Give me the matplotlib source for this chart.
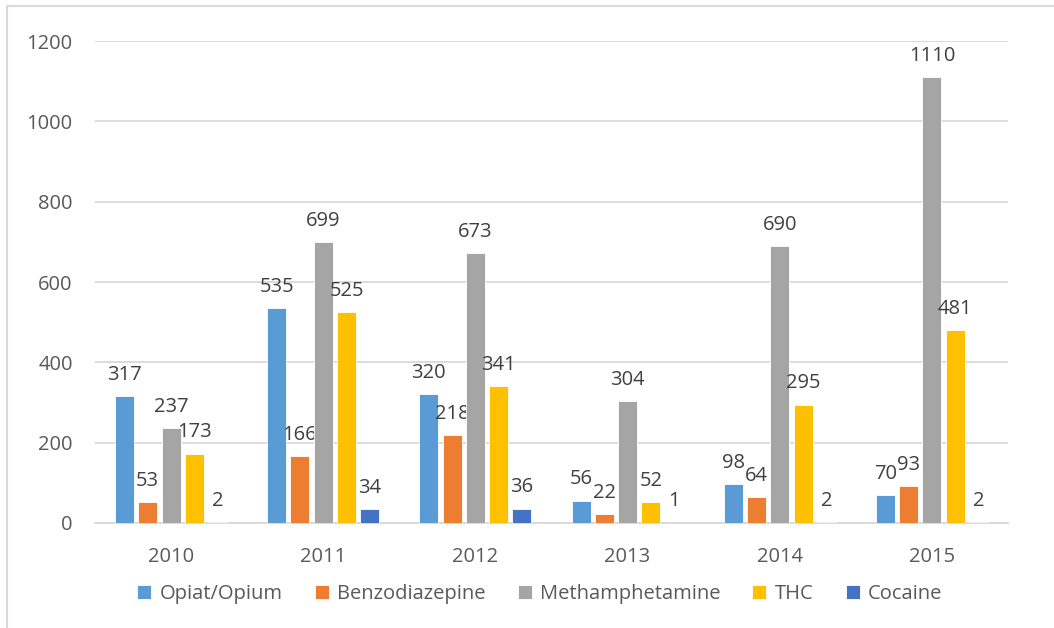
import numpy as np
import matplotlib.pyplot as plt
from matplotlib.lines import Line2D

years = ['2010', '2011', '2012', '2013', '2014', '2015']
series = ['Opiat/Opium', 'Benzodiazepine', 'Methamphetamine', 'THC', 'Cocaine']
opium = [317, 535, 320, 56, 98, 70]
benzo = [53, 166, 218, 22, 64, 93]
meth = [237, 699, 673, 304, 690, 1110]
thc = [173, 525, 341, 52, 295, 481]
cocaine = [2, 34, 36, 1, 2, 2]

colors = ['#5B9BD5', '#ED7D31', '#A5A5A5', '#FFC000', '#4472C4']

plt.rcParams['font.family'] = ['Open Sans', 'DejaVu Sans']

fig = plt.figure(figsize=(10.54, 6.28), dpi=100)
ax = fig.add_axes([0.0901, 0.1672, 0.8663, 0.7675])

x = np.arange(len(years))
step = 0.153
width = 0.125
for k, (name, vals) in enumerate(zip(series, [opium, benzo, meth, thc, cocaine])):
    pos = x + (k - 2) * step
    bars = ax.bar(pos, vals, width, color=colors[k], edgecolor='white',
                  linewidth=0.6, label=name, zorder=3)
    for b, v in zip(bars, vals):
        ax.annotate(str(v), (b.get_x() + b.get_width() / 2, v),
                    xytext=(0, 8), textcoords='offset points',
                    ha='center', va='bottom', fontsize=14.5, color='#404040')

ax.set_ylim(0, 1200)
ax.set_xlim(-0.5, len(years) - 0.5)
ax.set_yticks(range(0, 1201, 200))
ax.set_xticks(x)
ax.set_xticklabels(years)
ax.grid(axis='y', color='#D9D9D9', linewidth=1.3, zorder=0)
ax.tick_params(axis='both', length=0, labelsize=14.5, labelcolor='#595959')
ax.tick_params(axis='y', pad=16)
ax.tick_params(axis='x', pad=17)
for s in ['top', 'right', 'left']:
    ax.spines[s].set_visible(False)
ax.spines['bottom'].set_color('#D9D9D9')
ax.spines['bottom'].set_linewidth(1.3)

fig.legend(loc='center', bbox_to_anchor=(0.512, 0.054), ncol=5, frameon=False,
           fontsize=14.5, labelcolor='#595959', handlelength=0.7, handleheight=0.7,
           handletextpad=0.4, columnspacing=1.6)

# chart frame (only left and top edges visible in the picture)
fig.add_artist(Line2D([0.0066, 0.0066], [0, 0.9904], color='#D9D9D9', lw=1.5))
fig.add_artist(Line2D([0.0066, 1], [0.9904, 0.9904], color='#D9D9D9', lw=1.5))

fig.savefig('out.png', dpi=100)
